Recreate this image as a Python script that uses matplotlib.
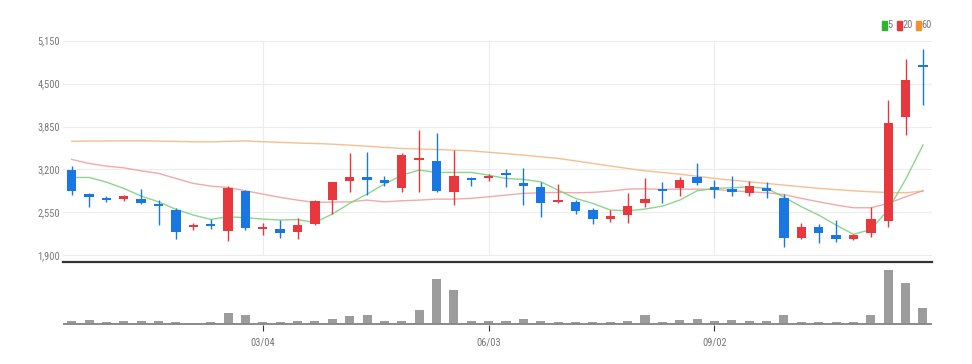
import matplotlib
matplotlib.use("Agg")
import matplotlib.pyplot as plt
from matplotlib.patches import Rectangle
from matplotlib import font_manager
import numpy as np

_names = {f.name for f in font_manager.fontManager.ttflist}
_pref = ['Liberation Sans Narrow', 'Roboto Condensed', 'Open Sans Condensed', 'DejaVu Sans Condensed',
         'Liberation Sans']
FONT = next((p for p in _pref if p in _names), 'DejaVu Sans')
NARROW = FONT != 'Liberation Sans'
plt.rcParams['font.family'] = [FONT, 'DejaVu Sans']
FS = 7.5 if NARROW else 7

# ---- data (weekly candles) ----
opens  = [3190, 2810, 2765, 2755, 2760, 2670, 2585, 2330, 2365, 2267, 2872, 2295, 2298, 2257, 2373,
          2736, 3030, 3080, 3030, 2913, 3345, 3326, 2853, 3060, 3065, 3135, 2975, 2928, 2700, 2710,
          2585, 2444, 2509, 2691, 2900, 2918, 3079, 2915, 2885, 2847, 2922, 2762, 2157, 2333, 2207,
          2146, 2233, 2419, 4000, 4775]
closes = [2877, 2790, 2740, 2800, 2690, 2650, 2260, 2355, 2345, 2922, 2308, 2318, 2242, 2358, 2725,
          3004, 3080, 3040, 3000, 3416, 3360, 2877, 3099, 3040, 3100, 3120, 2955, 2695, 2718, 2570,
          2444, 2494, 2645, 2756, 2870, 3039, 2998, 2895, 2865, 2953, 2872, 2157, 2333, 2242, 2146,
          2207, 2444, 3905, 4551, 4750]
highs  = [3250, 2837, 2792, 2812, 2910, 2740, 2610, 2384, 2449, 2948, 2887, 2393, 2434, 2459, 2745,
          3013, 3450, 3465, 3104, 3450, 3805, 3754, 3492, 3079, 3129, 3200, 3225, 3013, 2978, 2736,
          2610, 2585, 2837, 3064, 3004, 3079, 3300, 3039, 3099, 3028, 3004, 2827, 2384, 2369, 2434,
          2218, 2635, 4248, 4879, 5030]
lows   = [2812, 2626, 2701, 2726, 2680, 2360, 2150, 2283, 2298, 2121, 2283, 2207, 2157, 2142, 2365,
          2524, 2860, 2810, 2948, 2860, 2860, 2862, 2660, 2948, 3028, 2937, 2660, 2484, 2686, 2520,
          2373, 2408, 2384, 2635, 2695, 2797, 2963, 2762, 2797, 2797, 2762, 2021, 2146, 2081, 2096,
          2131, 2181, 2333, 3719, 4173]
ma5    = [3079, 3079, 3008, 2913, 2797, 2710, 2596, 2509, 2444, 2484, 2469, 2449, 2434, 2441, 2396,
          2524, 2686, 2827, 2978, 3114, 3190, 3155, 3155, 3155, 3114, 3064, 3049, 3013, 2887, 2762,
          2686, 2585, 2574, 2600, 2645, 2736, 2877, 2913, 2922, 2937, 2913, 2781, 2635, 2509, 2358,
          2218, 2290, 2590, 3050, 3570]
ma20   = [3352, 3291, 3250, 3225, 3179, 3140, 3064, 2989, 2948, 2928, 2877, 2827, 2777, 2736, 2701,
          2706, 2710, 2736, 2710, 2726, 2736, 2751, 2751, 2762, 2786, 2812, 2837, 2847, 2853, 2847,
          2853, 2872, 2902, 2907, 2898, 2902, 2902, 2898, 2877, 2862, 2847, 2819, 2762, 2710, 2661,
          2620, 2620, 2686, 2786, 2878]
ma60   = [3628, 3630, 3632, 3633, 3633, 3630, 3625, 3620, 3618, 3625, 3633, 3620, 3610, 3600, 3593,
          3583, 3568, 3553, 3535, 3518, 3510, 3503, 3492, 3482, 3460, 3440, 3417, 3392, 3367, 3330,
          3291, 3253, 3215, 3179, 3155, 3129, 3097, 3064, 3038, 3013, 2988, 2963, 2938, 2913, 2895,
          2877, 2862, 2850, 2847, 2872]
volume = [56, 76, 36, 44, 44, 44, 30, 4, 30, 212, 180, 36, 40, 56, 56,
          86, 146, 166, 56, 56, 266, 900, 666, 56, 44, 44, 86, 56, 30, 30,
          30, 30, 56, 166, 40, 76, 86, 44, 76, 44, 44, 180, 40, 30, 30,
          30, 180, 1066, 812, 312]
date_ticks = [11, 24, 37]
date_labels = ['03/04', '06/03', '09/02']
y_ticks = [1900, 2550, 3200, 3850, 4500, 5150]
ma_labels = ['5', '20', '60']

# ---- style ----
RED = '#e8373d'
BLUE = '#1977e3'
W, H = 972, 364
fig = plt.figure(figsize=(W / 100, H / 100), dpi=100)

left = 63 / W
width = (932 - 63) / W
ax = fig.add_axes([left, 1 - 262 / H, width, (262 - 40.7) / H])
axv = fig.add_axes([left, 1 - 324.5 / H, width, (324.5 - 264) / H])

n = len(opens)
x = np.arange(n)
px = (5150 - 1900) / (255.3 - 40.7)  # price units per pixel
ylo = 1900 - (262 - 255.3) * px

# grid
for t in y_ticks:
    ax.axhline(t, color='#ececec', lw=0.8, zorder=0)
ax.vlines(date_ticks, 1900, 5150, color='#ececec', lw=0.8, zorder=0)

# moving averages
ax.plot(x, ma60, color='#f5b47a', lw=1.0, alpha=0.85, zorder=1)
ax.plot(x, ma20, color='#f09a9a', lw=1.0, alpha=0.85, zorder=1)
ax.plot(x, ma5, color='#7fd27f', lw=1.0, alpha=0.9, zorder=1)

# candles
o = np.array(opens, float)
c = np.array(closes, float)
colors = [RED if cc >= oo else BLUE for oo, cc in zip(o, c)]
bottoms = np.minimum(o, c)
heights = np.maximum(np.abs(c - o), 2.2 * px)
ax.vlines(x, lows, highs, colors=colors, lw=1.0, zorder=2)
ax.bar(x, heights, bottom=bottoms, width=0.54, color=colors, zorder=3, linewidth=0)

ax.set_xlim(-0.5, n - 0.48)
ax.set_ylim(ylo, 5150)
ax.set_yticks(y_ticks)
ax.set_yticklabels([f'{v:,}' for v in y_ticks])
ax.tick_params(axis='y', length=0, pad=2, labelsize=FS, labelcolor='#777777')
ax.set_xticks([])
for s in ['top', 'right', 'left']:
    ax.spines[s].set_visible(False)
ax.spines['bottom'].set_color('#333333')
ax.spines['bottom'].set_linewidth(1.6)

# volume
vmax = max(volume)
vtop = vmax * 59.5 / 53.3
axv.bar(x, volume, width=0.52, color='#9c9c9c', linewidth=0, zorder=2)
axv.set_xlim(-0.5, n - 0.48)
axv.set_ylim(-vtop * 1.0 / 59.5, vtop)
axv.axhline(-vtop * 0.6 / 59.5, color='#8a8a8a', lw=1.4, zorder=3)
axv.set_yticks([])
axv.set_xticks(date_ticks)
axv.set_xticklabels(date_labels)
axv.tick_params(axis='x', length=4, width=0.8, color='#333333', pad=5, labelsize=FS, labelcolor='#777777')
for s in ['top', 'right', 'left', 'bottom']:
    axv.spines[s].set_visible(False)

# legend (top right)
leg_cols = ['#2db52d', RED, '#f0922e']
leg_x = [882, 897, 916]
for lx, col, lab in zip(leg_x, leg_cols, ma_labels):
    fig.patches.append(Rectangle((lx / W, 1 - 29.5 / H), 4.5 / W, 8.5 / H,
                                 transform=fig.transFigure, color=col, figure=fig))
    fig.text((lx + 5.5) / W, 1 - 25 / H, lab, fontsize=FS, color='#777777',
             ha='left', va='center')

fig.savefig('out.png', dpi=100)
